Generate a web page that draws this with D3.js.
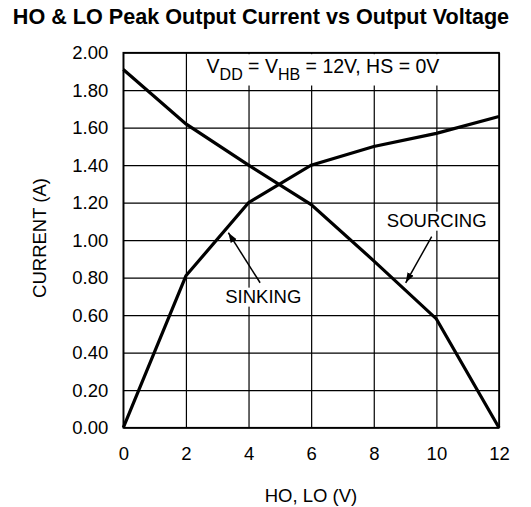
<!DOCTYPE html>
<html>
<head>
<meta charset="utf-8">
<script src="https://cdn.jsdelivr.net/npm/d3@7"></script>
<style>
  body{ margin:0; background:#fff; }
  text{ font-family:"Liberation Sans", Arial, Helvetica, sans-serif; fill:#000; }
</style>
</head>
<body>
<svg id="chart" width="531" height="507"></svg>
<script>
var voltage = [0, 2, 4, 6, 8, 10, 12]
var sourcing = [1.91, 1.62, 1.40, 1.19, 0.89, 0.58, 0.00]
var sinking = [0.00, 0.81, 1.20, 1.40, 1.50, 1.57, 1.66]
var x_ticks = [0, 2, 4, 6, 8, 10, 12]
var y_ticks = [0, 0.2, 0.4, 0.6, 0.8, 1.0, 1.2, 1.4, 1.6, 1.8, 2.0]

var title = "HO & LO Peak Output Current vs Output Voltage"
var x_title = "HO, LO (V)"
var y_title = "CURRENT (A)"

var svg = d3.select("#chart")
var margin = {left:123.3, top:52.7, right:32, bottom:79.3}
var width = 531 - margin.left - margin.right
var height = 507 - margin.top - margin.bottom

var x = d3.scaleLinear().domain([0, 12]).range([0, width])
var y = d3.scaleLinear().domain([0, 2]).range([height, 0])

svg.append("text")
    .attr("x", 261).attr("y", 24)
    .attr("text-anchor", "middle")
    .style("font-weight", "bold").style("font-size", "21.6px")
    .text(title)

var g = svg.append("g").attr("transform", "translate(" + margin.left + "," + margin.top + ")")

//grid + tick labels
var xaxis = g.append("g")
    .attr("transform", "translate(0," + height + ")")
    .call(d3.axisBottom(x).tickValues(x_ticks).tickSize(-height).tickPadding(19).tickFormat(d3.format("d")))
var yaxis = g.append("g")
    .call(d3.axisLeft(y).tickValues(y_ticks).tickSize(-width).tickPadding(15).tickFormat(d3.format(".2f")))

;[xaxis, yaxis].forEach(function(a){
  a.select(".domain").remove()
  a.selectAll("line").attr("stroke", "#000").attr("stroke-width", 1.2)
  a.selectAll("text").style("font-size", "18.5px").attr("fill", "#000")
    .style("font-family", "'Liberation Sans', Arial, Helvetica, sans-serif")
})

// white boxes behind the notes
var boxes = g.append("g")
var notes = g.append("g")

var cond = notes.append("text")
    .attr("x", x(2.66)).attr("y", y(1.892))
    .style("font-size", "19.5px")
cond.append("tspan").text("V")
cond.append("tspan").attr("dy", 7).style("font-size", "16px").text("DD")
cond.append("tspan").attr("dy", -7).text(" = V")
cond.append("tspan").attr("dy", 7).style("font-size", "16px").text("HB")
cond.append("tspan").attr("dy", -7).text(" = 12V, HS = 0V")

var labels = [
  {text:"SINKING", x:4.47, y:0.667},
  {text:"SOURCING", x:10.01, y:1.072}
]
var label = notes.selectAll(".label")
    .data(labels)
  .enter().append("text")
    .classed("label", true)
    .attr("x", function(d){ return x(d.x) })
    .attr("y", function(d){ return y(d.y) })
    .attr("text-anchor", "middle")
    .style("font-size", "18.5px")
    .text(function(d){ return d.text })

var cb = cond.node().getBBox()
boxes.append("rect")
    .attr("x", cb.x - 10).attr("y", 1.5)
    .attr("width", width - (cb.x - 10) - 1.5).attr("height", y(1.825) - 1.5)
    .attr("fill", "#fff")
label.each(function(){
  var b = this.getBBox()
  boxes.append("rect")
      .attr("x", b.x - 3).attr("y", b.y + 2)
      .attr("width", b.width + 6).attr("height", b.height - 2)
      .attr("fill", "#fff")
})

var line = d3.line()
    .x(function(d){ return x(d[0]) })
    .y(function(d){ return y(d[1]) })

;[sourcing, sinking].forEach(function(s){
  g.append("path")
      .datum(voltage.map(function(v, i){ return [v, s[i]] }))
      .attr("d", line)
      .attr("fill", "none")
      .attr("stroke", "#000")
      .attr("stroke-width", 3.2)
})

g.append("rect")
    .attr("width", width).attr("height", height)
    .attr("fill", "none").attr("stroke", "#000").attr("stroke-width", 1.6)

// arrows
svg.append("defs").append("marker")
    .attr("id", "head")
    .attr("viewBox", "0 0 10 10")
    .attr("refX", 10).attr("refY", 5)
    .attr("markerWidth", 10).attr("markerHeight", 10)
    .attr("markerUnits", "userSpaceOnUse")
    .attr("orient", "auto")
  .append("path")
    .attr("d", "M0,1.5L10,5L0,8.5Z")
    .attr("fill", "#000")

var arrows = [
  {x1:4.37, y1:0.773, x2:3.355, y2:1.04},
  {x1:9.85, y1:1.019, x2:9.02, y2:0.773}
]
g.selectAll(".arrow")
    .data(arrows)
  .enter().append("line")
    .classed("arrow", true)
    .attr("x1", function(d){ return x(d.x1) })
    .attr("y1", function(d){ return y(d.y1) })
    .attr("x2", function(d){ return x(d.x2) })
    .attr("y2", function(d){ return y(d.y2) })
    .attr("stroke", "#000").attr("stroke-width", 1.5)
    .attr("marker-end", "url(#head)")

svg.append("text")
    .attr("x", 311).attr("y", 501.7)
    .attr("text-anchor", "middle")
    .style("font-size", "18.5px")
    .text(x_title)

svg.append("text")
    .attr("transform", "translate(46,238) rotate(-90)")
    .attr("text-anchor", "middle")
    .style("font-size", "18.5px")
    .text(y_title)
</script>
</body>
</html>
